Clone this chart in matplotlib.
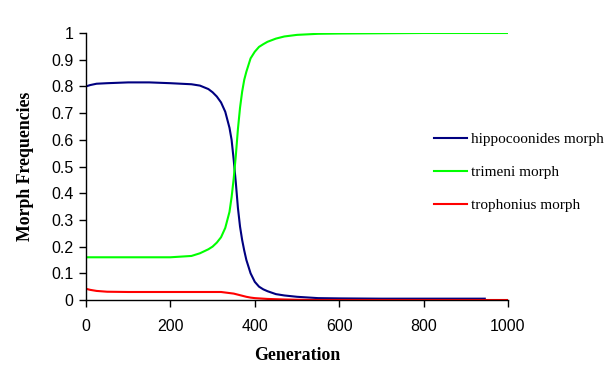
import numpy as np
import matplotlib.pyplot as plt

generation = [0, 10, 25, 50, 100, 150, 200, 250, 270, 290, 300, 310, 320, 330, 340,
              345, 350, 355, 360, 365, 370, 375, 380, 390, 400, 410, 420, 430, 450,
              470, 500, 550, 600, 700, 800, 900, 945, 1000]

hippocoonides = [0.800, 0.805, 0.810, 0.812, 0.815, 0.815, 0.812, 0.808, 0.803, 0.790,
                 0.778, 0.762, 0.740, 0.705, 0.645, 0.600, 0.525, 0.440, 0.345, 0.275,
                 0.225, 0.185, 0.150, 0.100, 0.068, 0.050, 0.040, 0.033, 0.022, 0.017,
                 0.012, 0.007, 0.006, 0.005, 0.005, 0.005, 0.005, np.nan]

trimeni = [0.160, 0.160, 0.160, 0.160, 0.160, 0.160, 0.160, 0.165, 0.175, 0.190,
           0.200, 0.215, 0.235, 0.270, 0.330, 0.385, 0.455, 0.540, 0.640, 0.720,
           0.780, 0.825, 0.855, 0.905, 0.930, 0.948, 0.958, 0.967, 0.979, 0.987,
           0.993, 0.997, 0.998, 0.999, 1.000, 1.000, 1.000, 1.000]

trophonius = [0.042, 0.038, 0.034, 0.031, 0.030, 0.030, 0.030, 0.030, 0.030, 0.030,
              0.030, 0.030, 0.030, 0.028, 0.026, 0.025, 0.024, 0.022, 0.020, 0.018,
              0.016, 0.014, 0.012, 0.009, 0.007, 0.006, 0.005, 0.004, 0.003, 0.002,
              0.001, 0.000, 0.000, 0.000, 0.000, 0.000, 0.000, 0.000]

fig = plt.figure(figsize=(6.15, 3.75), dpi=100)
ax = fig.add_axes([86 / 615, 1 - 300 / 375, 422 / 615, 267 / 375])

lw = 1.5
ax.plot(generation, hippocoonides, color='#000080', lw=lw, label='hippocoonides morph')
ax.plot(generation, trimeni, color='#00FF00', lw=lw, label='trimeni morph')
ax.plot(generation, trophonius, color='#FF0000', lw=lw, label='trophonius morph')

ax.set_xlim(0, 1000)
ax.set_ylim(0, 1)
ax.set_xticks(range(0, 1001, 200))
ax.set_yticks([i / 10 for i in range(11)])
ax.set_yticklabels(['0'] + ['0.%d' % i for i in range(1, 10)] + ['1'])

for s in ['top', 'right']:
    ax.spines[s].set_visible(False)
for s in ['left', 'bottom']:
    ax.spines[s].set_linewidth(1.0)
    ax.spines[s].set_color('black')

ax.tick_params(axis='both', direction='out', length=5, width=1.0, labelsize=11.5)
ax.tick_params(axis='y', pad=4)
ax.tick_params(axis='x', pad=9)
for lab in ax.get_xticklabels() + ax.get_yticklabels():
    lab.set_fontfamily('Liberation Sans')

ax.set_xlabel('Generation', fontfamily='Liberation Serif', fontweight='bold', fontsize=12.8, labelpad=9)
ax.set_ylabel('Morph Frequencies', fontfamily='Liberation Serif', fontweight='bold', fontsize=12.8, labelpad=12)

leg = ax.legend(loc='upper left', bbox_to_anchor=(420 / 615, 1 - 119 / 375),
                bbox_transform=fig.transFigure, frameon=False,
                prop={'family': 'Liberation Serif', 'size': 11},
                handlelength=2.15, handletextpad=0.26, labelspacing=1.25)

fig.savefig('out.png', dpi=100)
